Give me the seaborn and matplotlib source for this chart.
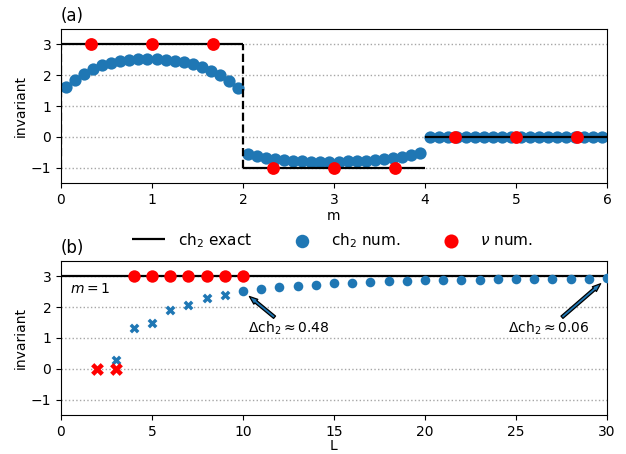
import numpy as np
import seaborn as sns
import matplotlib
matplotlib.use('Agg')
import matplotlib.pyplot as plt

# ---- panel (a): invariant vs m ----
m_grid = np.linspace(0.05, 5.95, 60)  # sampling points of m
ch2_num_a = [1.62, 1.85, 2.05, 2.20, 2.32, 2.40, 2.46, 2.50, 2.52, 2.53,
             2.52, 2.50, 2.47, 2.42, 2.35, 2.26, 2.15, 2.00, 1.82, 1.57,
             -0.55, -0.63, -0.69, -0.73, -0.76, -0.78, -0.80, -0.81, -0.82, -0.82,
             -0.81, -0.80, -0.79, -0.77, -0.75, -0.72, -0.69, -0.65, -0.60, -0.54,
             -0.02, -0.02, -0.02, -0.02, -0.02, -0.02, -0.02, -0.02, -0.02, -0.02,
             -0.02, -0.02, -0.02, -0.02, -0.02, -0.02, -0.02, -0.02, -0.02, -0.02]
nu_m = [1/3, 1, 5/3, 7/3, 3, 11/3, 13/3, 5, 17/3]
nu_a = [3, 3, 3, -1, -1, -1, 0, 0, 0]
exact_start = [0, 2, 4]
exact_end = [2, 4, 6]
exact_val = [3, -1, 0]
jump_m = [0, 2]

# ---- panel (b): invariant vs L at m = 1 ----
L_x = [3, 4, 5, 6, 7, 8, 9]
ch2_x = [0.30, 1.33, 1.49, 1.92, 2.08, 2.29, 2.41]
L_nu_x = [2, 3]
nu_x = [0, 0]
L_nu = [4, 5, 6, 7, 8, 9, 10]
nu_b = [3, 3, 3, 3, 3, 3, 3]
L_ch2 = list(range(10, 31))
ch2_b = [2.52, 2.58, 2.65, 2.69, 2.73, 2.77, 2.80, 2.82, 2.84, 2.85, 2.87,
         2.88, 2.89, 2.89, 2.90, 2.91, 2.92, 2.92, 2.93, 2.93, 2.94]
ch2_exact_b = 3

blue = '#1f77b4'

fig, (ax1, ax2) = plt.subplots(2, 1, figsize=(6.26, 4.54), dpi=100)
plt.subplots_adjust(left=0.0974, right=0.9696, top=0.936, bottom=0.086, hspace=0.506)

# panel (a)
sns.scatterplot(x=m_grid, y=ch2_num_a, color=blue, s=78, linewidth=0, ax=ax1,
                zorder=2, label='ch$_2$ num.')
ax1.hlines(exact_val, exact_start, exact_end, colors='k', linewidth=1.6, zorder=3,
           label='ch$_2$ exact')
ax1.vlines(jump_m, -1, 3, colors='k', linestyles='--', linewidth=1.6, zorder=3)
sns.scatterplot(x=nu_m, y=nu_a, color='red', s=85, linewidth=0, ax=ax1,
                zorder=4, label=r'$\nu$ num.')
ax1.set_xlim(0, 6)
ax1.set_ylim(-1.5, 3.5)
ax1.set_xlabel('m', labelpad=1.5)
ax1.set_ylabel('invariant', labelpad=2)
ax1.set_title('(a)', loc='left', fontsize=12)

# panel (b)
ax2.axhline(ch2_exact_b, color='k', linewidth=1.6, zorder=2)
sns.scatterplot(x=L_x, y=ch2_x, color=blue, marker='X', s=50, linewidth=0, ax=ax2, zorder=3)
sns.scatterplot(x=L_nu_x, y=nu_x, color='red', marker='X', s=85, linewidth=0, ax=ax2, zorder=4)
sns.scatterplot(x=L_nu, y=nu_b, color='red', s=80, linewidth=0, ax=ax2, zorder=4)
sns.scatterplot(x=L_ch2, y=ch2_b, color=blue, s=48, linewidth=0, ax=ax2, zorder=3)
ax2.set_xlim(0, 30)
ax2.set_ylim(-1.5, 3.5)
ax2.set_xlabel('L', labelpad=0.5)
ax2.set_ylabel('invariant', labelpad=2)
ax2.set_title('(b)', loc='left', fontsize=12)
ax2.text(0.5, 2.6, '$m=1$', fontsize=10, va='center')

arrow = dict(arrowstyle='simple,head_length=0.6,head_width=0.45,tail_width=0.22',
             facecolor=blue, edgecolor='k', linewidth=0.9, shrinkA=0, shrinkB=6)
ax2.annotate(r'$\Delta$ch$_2\approx 0.48$', xy=(L_ch2[0], ch2_b[0]), xytext=(12.5, 1.3),
             ha='center', va='center', fontsize=10, arrowprops=arrow)
ax2.annotate(r'$\Delta$ch$_2\approx 0.06$', xy=(L_ch2[-1], ch2_b[-1]), xytext=(26.8, 1.3),
             ha='center', va='center', fontsize=10, arrowprops=arrow)

for ax in (ax1, ax2):
    ax.yaxis.grid(True, linestyle=':', color='0.65', linewidth=1)
    ax.set_axisbelow(True)
    ax.set_yticks([-1, 0, 1, 2, 3])

handles, labels = ax1.get_legend_handles_labels()
order = [labels.index('ch$_2$ exact'), labels.index('ch$_2$ num.'), labels.index(r'$\nu$ num.')]
ax1.get_legend().remove()
fig.legend([handles[i] for i in order], [labels[i] for i in order], ncol=3,
           loc='center', bbox_to_anchor=(0.531, 0.471), frameon=False, fontsize=11,
           handlelength=2.2, columnspacing=2.2, markerscale=1.1)

fig.savefig('out.png', dpi=100)
